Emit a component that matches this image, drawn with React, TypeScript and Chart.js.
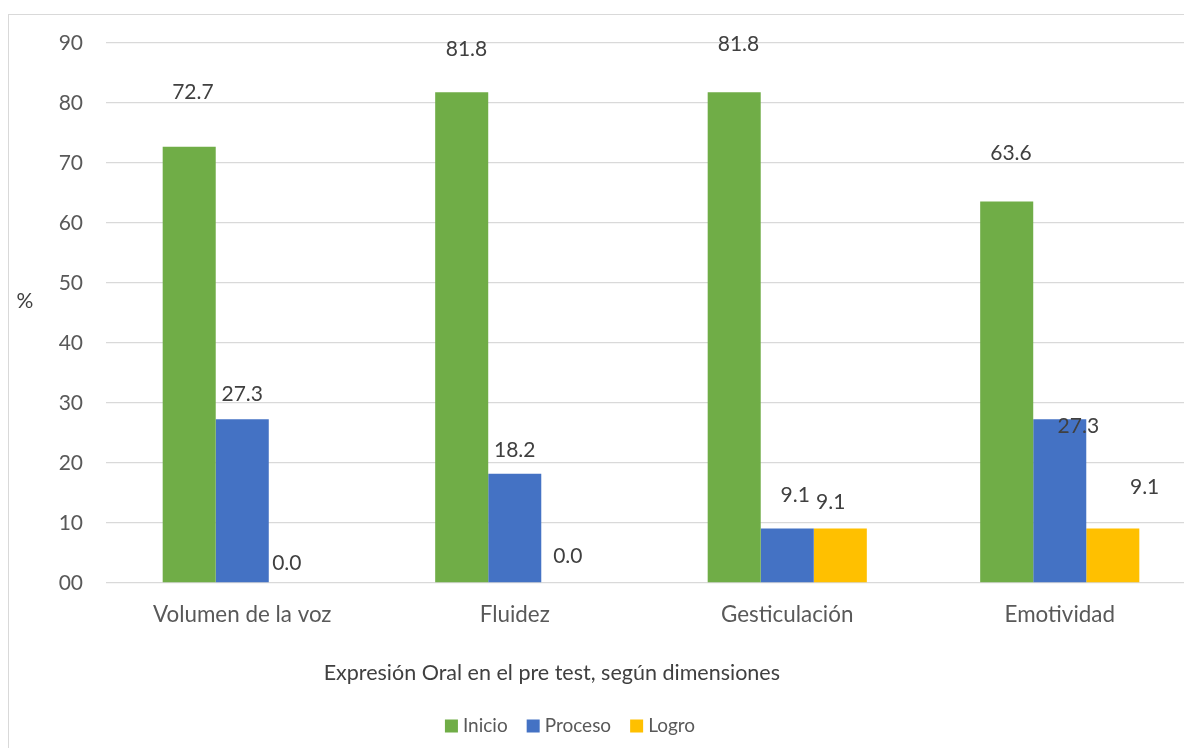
import React, { useEffect, useRef } from "react";
import { Chart, registerables } from "chart.js";

Chart.register(...registerables);

const categories = ["Volumen de la voz", "Fluidez", "Gesticulación", "Emotividad"];
const inicio = [72.7, 81.8, 81.8, 63.6];
const proceso = [27.3, 18.2, 9.1, 27.3];
const logro = [0.0, 0.0, 9.1, 9.1];
const seriesNames = ["Inicio", "Proceso", "Logro"];
const yTicks = [0, 10, 20, 30, 40, 50, 60, 70, 80, 90];
const xTitle = "Expresión Oral en el pre test, según dimensiones";
const yTitle = "%";

// data-label anchor levels (in % units) and horizontal shift (in bar widths)
const labelLevelInicio = [81.8, 88.9, 89.8, 71.7];
const labelLevelProceso = [31.5, 22.2, 14.7, 26.2];
const labelLevelLogro = [3.3, 4.5, 13.5, 16.0];
const labelShiftInicio = [0.07, 0.09, 0.08, 0.08];
const labelShiftProceso = [0, 0, 0.15, 0.35];
const labelShiftLogro = [-0.16, 0, -0.18, 0.6];

const colors = ["#70AD47", "#4472C4", "#FFC000"];
const FONT = "Lato, 'Open Sans', sans-serif";

export default function App() {
  const ref = useRef<HTMLCanvasElement | null>(null);

  useEffect(() => {
    if (!ref.current) return;
    const levels = [labelLevelInicio, labelLevelProceso, labelLevelLogro];
    const shifts = [labelShiftInicio, labelShiftProceso, labelShiftLogro];

    const labelPlugin = {
      id: "customLabels",
      afterDatasetsDraw(chart: any) {
        const ctx = chart.ctx;
        const yScale = chart.scales.y;
        const area = chart.chartArea;
        ctx.save();
        ctx.font = `21px ${FONT}`;
        ctx.fillStyle = "#404040";
        ctx.textAlign = "center";
        ctx.textBaseline = "middle";
        chart.data.datasets.forEach((ds: any, i: number) => {
          const meta = chart.getDatasetMeta(i);
          meta.data.forEach((bar: any, j: number) => {
            const w = bar.width;
            const x = bar.x + shifts[i][j] * w;
            const y = yScale.getPixelForValue(levels[i][j]);
            ctx.fillText(Number(ds.data[j]).toFixed(1), x, y);
          });
        });
        // "%" axis label
        ctx.font = `21px ${FONT}`;
        ctx.fillText(yTitle, area.left - 81, yScale.getPixelForValue(47));

        // x-axis title
        const width = area.right - area.left;
        ctx.font = `21.5px ${FONT}`;
        ctx.fillStyle = "#404040";
        ctx.fillText(xTitle, area.left + 0.409 * width, area.bottom + 90);

        // legend
        ctx.font = `19px ${FONT}`;
        const box = 13;
        const gapText = 5;
        const gapItem = 19;
        const widths = seriesNames.map((n) => ctx.measureText(n).width);
        const total =
          widths.reduce((a, b) => a + b, 0) + seriesNames.length * (box + gapText) + gapItem * (seriesNames.length - 1);
        let x = area.left + 0.4257 * width - total / 2;
        const ly = area.bottom + 143;
        ctx.textAlign = "left";
        seriesNames.forEach((n, i) => {
          ctx.fillStyle = colors[i];
          ctx.fillRect(x, ly - box / 2, box, box);
          ctx.fillStyle = "#595959";
          ctx.fillText(n, x + box + gapText, ly);
          x += box + gapText + widths[i] + gapItem;
        });
        ctx.restore();
      },
    };

    const chart = new Chart(ref.current, {
      type: "bar",
      data: {
        labels: categories,
        datasets: [
          { label: seriesNames[0], data: inicio, backgroundColor: colors[0] },
          { label: seriesNames[1], data: proceso, backgroundColor: colors[1] },
          { label: seriesNames[2], data: logro, backgroundColor: colors[2] },
        ],
      },
      options: {
        animation: false,
        responsive: false,
        maintainAspectRatio: false,
        layout: { padding: { top: 28, right: 13, bottom: 53, left: 0 } },
        datasets: {
          bar: { categoryPercentage: 0.584, barPercentage: 1.0 },
        },
        plugins: {
          legend: { display: false },
          tooltip: { enabled: false },
          title: { display: false },
        },
        scales: {
          x: {
            grid: { display: false },
            border: { display: false },
            ticks: {
              font: { family: FONT, size: 22.4 },
              color: "#595959",
              padding: 10,
              maxRotation: 0,
            },
            afterFit(scale: any) {
              scale.height = 124;
            },
          },
          y: {
            min: 0,
            max: 90,
            afterBuildTicks(scale: any) {
              scale.ticks = yTicks.map((v) => ({ value: v }));
            },
            grid: {
              color: "#d9d9d9",
              lineWidth: 1.3,
              drawTicks: true,
              tickLength: 23,
              tickColor: "rgba(0,0,0,0)",
            },
            border: { display: false },
            ticks: {
              font: { family: FONT, size: 21 },
              color: "#595959",
              padding: 0,
              callback: (v: any) => (Number(v) === 0 ? "00" : String(v)),
            },
            afterFit(scale: any) {
              scale.width = 97;
            },
          },
        },
      },
      plugins: [labelPlugin],
    });
    return () => chart.destroy();
  }, []);

  return (
    <div style={{ width: 1184, height: 740, overflow: "hidden", position: "relative" }}>
      <div
        style={{
          position: "absolute",
          left: 0,
          top: 6,
          width: 1200,
          height: 745,
          border: "1px solid #d9d9d9",
          background: "#fff",
        }}
      >
        <canvas ref={ref} width={1200} height={745} style={{ display: "block" }} />
      </div>
    </div>
  );
}
